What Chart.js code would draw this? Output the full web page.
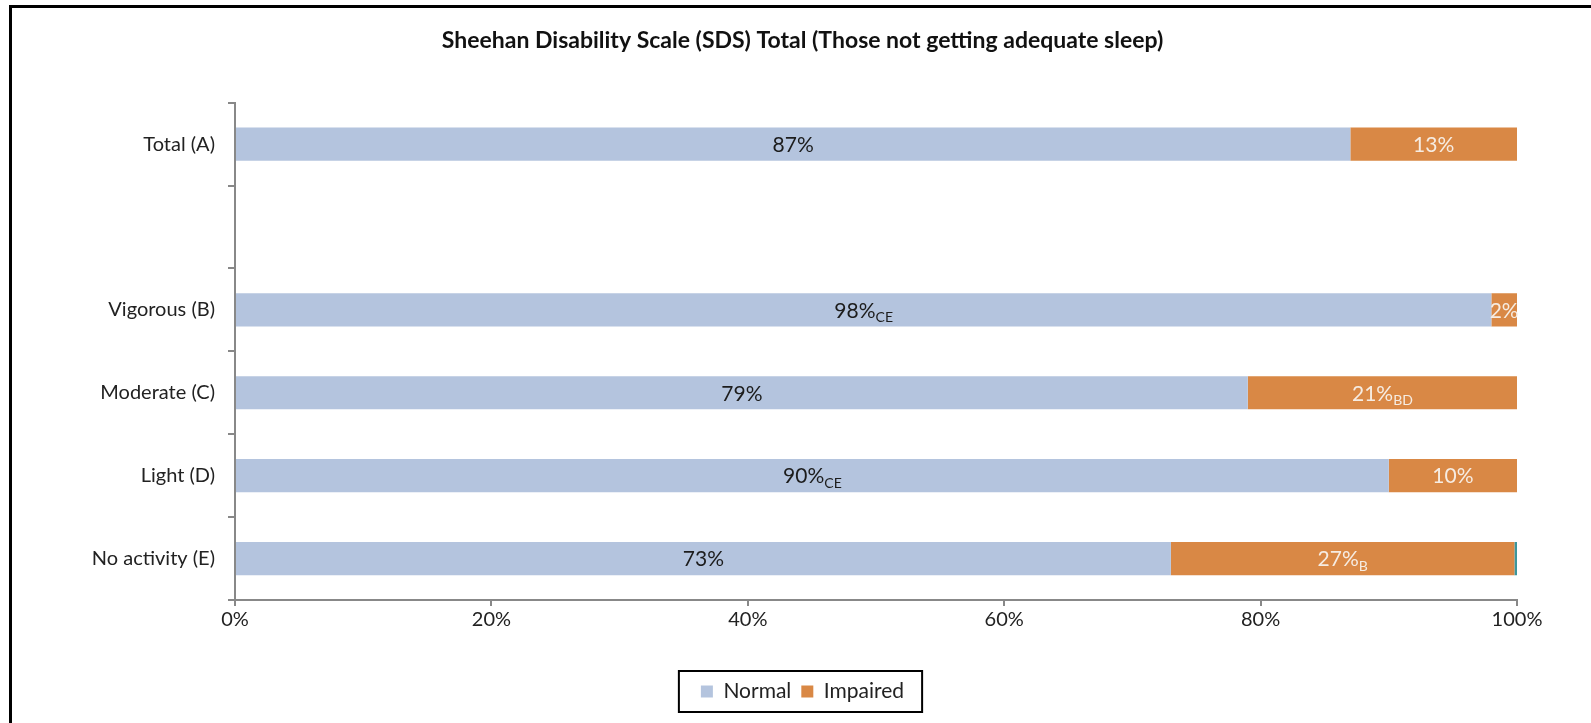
<!DOCTYPE html>
<html>
<head>
<meta charset="utf-8">
<script src="https://cdn.jsdelivr.net/npm/chart.js@4/dist/chart.umd.min.js"></script>
<style>
  html, body { margin: 0; padding: 0; background: #fff; overflow: hidden; }
  #wrap { position: relative; width: 1591px; height: 723px; }
  #frame { position: absolute; left: 9px; top: 5px; width: 1700px; height: 800px;
           border-top: 3px solid #000; border-left: 3px solid #000; pointer-events: none; }
</style>
</head>
<body>
<div id="wrap">
  <canvas id="sdsChart" width="1591" height="723"></canvas>
  <div id="frame"></div>
</div>
<script>
// categories (the blank one is the gap under Total)
const categories = ['Total (A)', '', 'Vigorous (B)', 'Moderate (C)', 'Light (D)', 'No activity (E)'];
const normalValues = [87, null, 98, 79, 90, 73];
const impairedValues = [13, null, 2, 21, 10, 26.8];
const otherValues = [null, null, null, null, null, 0.2];
// significance letters shown as subscripts
const normalSubs = ['', '', 'CE', '', 'CE', ''];
const impairedSubs = ['', '', '', 'BD', '', 'B'];
const xTicks = [0, 20, 40, 60, 80, 100];

const FONT = 'Lato, "Open Sans", sans-serif';

// draws the % labels (with subscript letters) in the middle of each segment
const segLabels = {
	id: 'segLabels',
	afterDatasetsDraw(chart) {
		const ctx = chart.ctx;
		const subsets = [normalSubs, impairedSubs];
		const colors = ['#1c1c1c', '#f6ece2'];
		for (let d = 0; d < 2; d++) {
			const meta = chart.getDatasetMeta(d);
			meta.data.forEach((el, i) => {
				const v = chart.data.datasets[d].data[i];
				if (v == null) return;
				const main = Math.round(v) + '%';
				const sub = subsets[d][i];
				ctx.save();
				ctx.font = '21px ' + FONT;
				const w1 = ctx.measureText(main).width;
				ctx.font = '14px ' + FONT;
				const w2 = sub ? ctx.measureText(sub).width : 0;
				const cx = (el.x + el.base) / 2;
				let x = cx - (w1 + w2) / 2;
				ctx.fillStyle = colors[d];
				ctx.textBaseline = 'middle';
				ctx.textAlign = 'left';
				ctx.font = '21px ' + FONT;
				ctx.fillText(main, x, el.y + 1);
				if (sub) {
					ctx.font = '14px ' + FONT;
					ctx.fillText(sub, x + w1, el.y + 8);
				}
				ctx.restore();
			});
		}
	}
};

// box around the legend like the original
const legendBox = {
	id: 'legendBox',
	afterDraw(chart) {
		const boxes = chart.legend.legendHitBoxes;
		if (!boxes || !boxes.length) return;
		let l = Infinity, r = -Infinity, t = Infinity, b = -Infinity;
		boxes.forEach(h => {
			l = Math.min(l, h.left); r = Math.max(r, h.left + h.width);
			t = Math.min(t, h.top); b = Math.max(b, h.top + h.height);
		});
		const ctx = chart.ctx;
		ctx.save();
		ctx.strokeStyle = '#000';
		ctx.lineWidth = 2;
		ctx.strokeRect(l - 22, t - 10, (r - l) + 40, (b - t) + 20);
		ctx.restore();
	}
};

const ctx = document.getElementById('sdsChart');
new Chart(ctx, {
	type: 'bar',
	data: {
		labels: categories,
		datasets: [{
			label: 'Normal',
			data: normalValues,
			backgroundColor: '#b4c4de',
			barPercentage: 0.4,
			categoryPercentage: 1
		}, {
			label: 'Impaired',
			data: impairedValues,
			backgroundColor: '#d98845',
			barPercentage: 0.4,
			categoryPercentage: 1
		}, {
			label: 'Other',
			data: otherValues,
			backgroundColor: '#3b969c',
			barPercentage: 0.4,
			categoryPercentage: 1
		}]
	},
	options: {
		indexAxis: 'y',
		responsive: false,
		animation: false,
		layout: { padding: { left: 88, right: 74, top: 0, bottom: 11 } },
		scales: {
			x: {
				stacked: true,
				min: 0,
				max: 100,
				afterBuildTicks: s => { s.ticks = xTicks.map(v => ({ value: v })); },
				afterFit: s => { s.height = 71; },
				border: { color: '#888', width: 2 },
				grid: { drawOnChartArea: false, tickLength: 6, color: '#888', lineWidth: 2 },
				ticks: {
					color: '#222',
					padding: 2,
					font: { family: FONT, size: 20 },
					callback: v => v + '%'
				}
			},
			y: {
				stacked: true,
				afterFit: s => { s.width = 147; },
				border: { color: '#888', width: 2 },
				grid: { drawOnChartArea: false, tickLength: 7, color: '#888', lineWidth: 2 },
				ticks: {
					color: '#222',
					padding: 13,
					font: { family: FONT, size: 20 }
				}
			}
		},
		plugins: {
			title: {
				display: true,
				text: 'Sheehan Disability Scale (SDS) Total (Those not getting adequate sleep)',
				color: '#111',
				font: { family: FONT, size: 23, weight: 'bold' },
				padding: { top: 27, bottom: 48 }
			},
			legend: {
				position: 'bottom',
				labels: {
					color: '#222',
					font: { family: FONT, size: 21 },
					boxWidth: 12,
					boxHeight: 12,
					padding: 10,
					filter: item => item.datasetIndex < 2
				}
			},
			tooltip: { enabled: false }
		}
	},
	plugins: [segLabels, legendBox]
});
</script>
</body>
</html>
